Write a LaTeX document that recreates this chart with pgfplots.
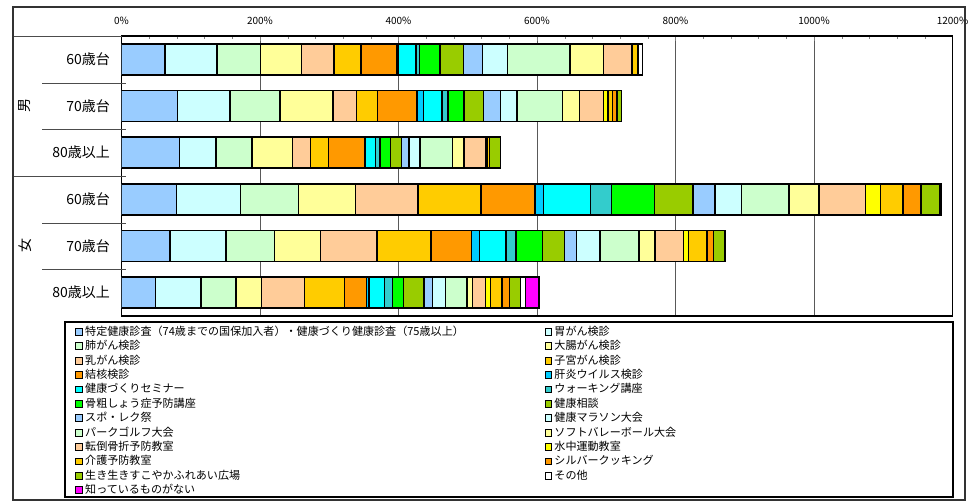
\documentclass[border=0pt]{standalone}
\usepackage{pgfplots}
\pgfplotsset{compat=1.18}
\usepackage{pgfplotstable}
\usepackage{fontspec}
\setmainfont{Noto Sans CJK JP}

% series colours, in legend order
\definecolor{c1}{HTML}{99CCFF}
\definecolor{c2}{HTML}{CCFFFF}
\definecolor{c3}{HTML}{CCFFCC}
\definecolor{c4}{HTML}{FFFF99}
\definecolor{c5}{HTML}{FFCC99}
\definecolor{c6}{HTML}{FFCC00}
\definecolor{c7}{HTML}{FF9900}
\definecolor{c8}{HTML}{00CCFF}
\definecolor{c9}{HTML}{00FFFF}
\definecolor{c10}{HTML}{33CCCC}
\definecolor{c11}{HTML}{00FF00}
\definecolor{c12}{HTML}{99CC00}
\definecolor{c13}{HTML}{99CCFF}
\definecolor{c14}{HTML}{CCFFFF}
\definecolor{c15}{HTML}{CCFFCC}
\definecolor{c16}{HTML}{FFFF99}
\definecolor{c17}{HTML}{FFCC99}
\definecolor{c18}{HTML}{FFFF00}
\definecolor{c19}{HTML}{FFCC00}
\definecolor{c20}{HTML}{FF9900}
\definecolor{c21}{HTML}{99CC00}
\definecolor{c22}{HTML}{FFFFFF}
\definecolor{c23}{HTML}{FF00FF}

% rows: 男60, 男70, 男80+, 女60, 女70, 女80+
\pgfplotstableread{
y s1 s2 s3 s4 s5 s6 s7 s8 s9 s10 s11 s12 s13 s14 s15 s16 s17 s18 s19 s20 s21 s22 s23
1 62.7 75.0 63.4 59.1 46.6 38.9 51.9 2.5 25.5 4.8 29.8 34.0 27.4 36.0 90.0 48.4 40.4 1.5 8.0 0.5 0.5 5.5 0
2 80.5 76.0 72.5 76.4 33.7 30.7 56.7 9.7 26.4 8.7 23.1 28.4 24.5 23.5 66.3 24.5 34.2 6.5 6.5 6.5 6.5 0 0
3 83.9 52.3 52.3 58.3 26.0 26.4 52.3 0.7 14.7 6.5 15.4 15.9 10.5 15.9 47.2 16.3 31.7 1.5 3.3 0 16.4 0 0
4 79.6 92.3 83.6 82.2 90.3 90.8 78.4 12.0 67.8 30.3 62.4 55.8 31.3 38.4 68.8 43.3 67.3 21.6 32.6 26.0 26.5 2.2 0
5 69.9 81.2 70.2 66.3 81.2 78.4 58.1 11.5 38.5 14.4 38.4 31.7 17.3 34.2 56.2 23.1 41.1 7.2 26.7 9.4 16.6 0 0
6 49.3 65.3 50.5 37.1 62.4 57.7 31.3 3.9 22.5 11.1 16.3 29.3 12.1 19.2 30.7 7.8 19.2 7.2 16.3 11.1 15.9 7.2 19.2
}\datatable

\begin{document}
\begin{tikzpicture}
\begin{axis}[
    at={(91.125pt,-27pt)}, anchor=north west,
    scale only axis,
    width=623.25pt, height=210pt,
    xbar stacked,
    bar width=23.25pt,
    xmin=0, xmax=1200,
    ymin=0.5, ymax=6.5,
    y dir=reverse,
    xtick={0,200,...,1200},
    xticklabels={0\%,200\%,400\%,600\%,800\%,1000\%,1200\%},
    minor x tick num=4,
    xtick pos=right, xticklabel pos=right,
    tick align=inside,
    major tick length=4pt, minor tick length=2.5pt,
    xticklabel style={font=\fontsize{7.5}{9}\selectfont, inner sep=0pt, yshift=8pt},
    ytick={1,...,6},
    yticklabels={60歳台,70歳台,80歳以上,60歳台,70歳台,80歳以上},
    y tick style={draw=none},
    yticklabel style={font=\fontsize{10.5}{12}\selectfont, inner sep=0pt, xshift=-8.5pt},
    xmajorgrids,
    major grid style={black!65, line width=0.6pt},
    axis line style={black, line width=0.8pt},
    every axis plot/.append style={draw=black, line width=1.1pt},
    legend columns=2,
    legend image code/.code={\draw[#1, draw=black, line width=0.75pt] (0pt,-2.6pt) rectangle (5.2pt,2.6pt);},
    legend style={
        at={(-0.05596,-0.0343)}, anchor=north west,
        draw=none, fill=none, inner sep=0pt,
        row sep=1.8pt,
        /tikz/column sep=0pt,
        /tikz/column 2/.style={text width=343pt, align=left},
        nodes={inner xsep=1.5pt, inner ysep=0pt, text height=7pt, text depth=2pt,
               font=\fontsize{8.3}{10}\selectfont},
    },
    legend cell align=left,
]
\pgfplotsinvokeforeach{1,...,23}{
    \addplot[fill=c#1] table[x=s#1, y=y] {\datatable};
}
\legend{
    特定健康診査（74歳までの国保加入者）・健康づくり健康診査（75歳以上）,
    胃がん検診, 肺がん検診, 大腸がん検診, 乳がん検診, 子宮がん検診,
    結核検診, 肝炎ウイルス検診, 健康づくりセミナー, ウォーキング講座,
    骨粗しょう症予防講座, 健康相談, スポ・レク祭, 健康マラソン大会,
    パークゴルフ大会, ソフトバレーボール大会, 転倒骨折予防教室, 水中運動教室,
    介護予防教室, シルバークッキング, 生き生きすこやかふれあい広場, その他,
    知っているものがない}
\end{axis}

% frame, group separators and group names (pixel units of the reference)
\begin{scope}[x=0.75pt, y=-0.75pt]
    \draw[black!70, line width=0.6pt] (13,36) -- (121.5,36);
    \draw[black!70, line width=0.6pt] (13,176) -- (126,176);
    \foreach \yy in {83,129,223,269}
        \draw[black!70, line width=0.6pt] (42,\yy) -- (126,\yy);
    \draw[black, line width=1.5pt] (121.5,36) -- (952.5,36);
    \node[rotate=90, font=\fontsize{10.5}{12}\selectfont] at (25,106) {男};
    \node[rotate=90, font=\fontsize{10.5}{12}\selectfont] at (25,246) {女};
    \draw[black, line width=0.8pt] (65,322) rectangle (953,497);
    \draw[black!80, line width=0.8pt] (13,7) rectangle (965,500);
\end{scope}
\pgfresetboundingbox
\path (0pt,0pt) rectangle (731.25pt,-376.5pt);
\end{tikzpicture}
\end{document}
